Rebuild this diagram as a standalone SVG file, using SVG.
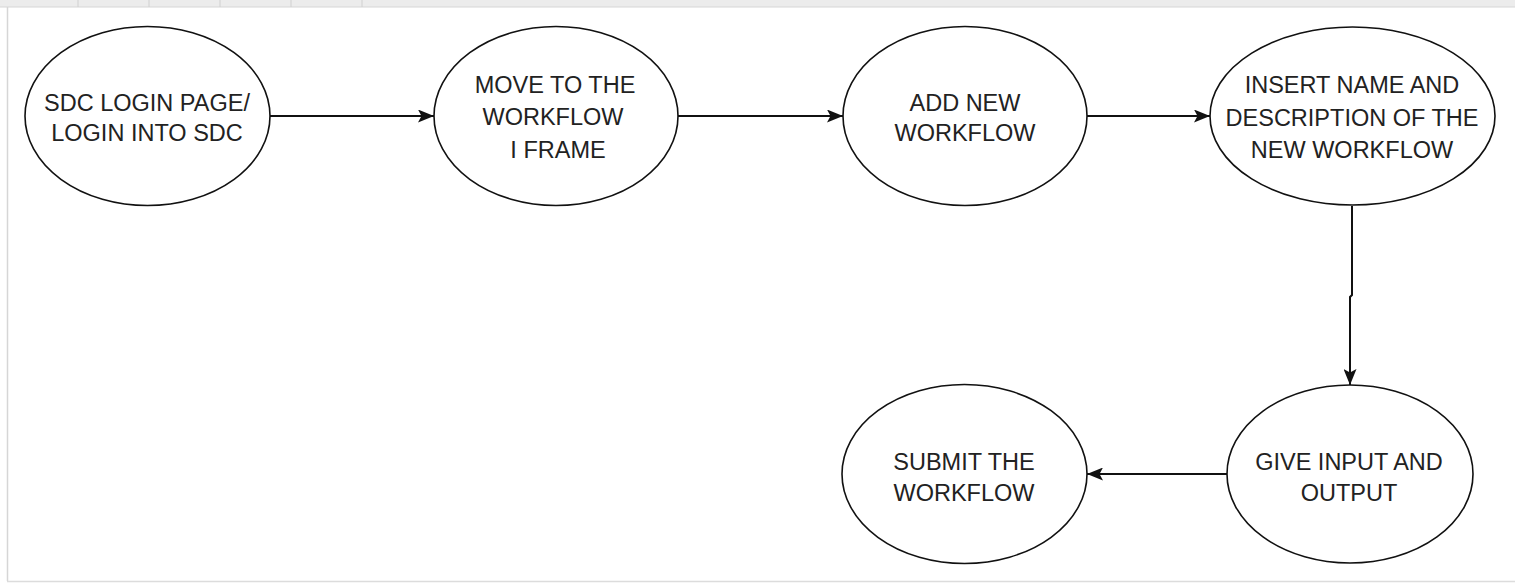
<svg xmlns="http://www.w3.org/2000/svg" width="1515" height="584" viewBox="0 0 1515 584">
<defs>
<style>
.node ellipse{fill:#fff;stroke:#111;stroke-width:1.6}
.node text{font-family:"Liberation Sans",Arial,sans-serif;font-size:23.5px;fill:#222;text-anchor:middle}
.edge{fill:none;stroke:#111;stroke-width:2}
</style>
<marker id="arr" markerWidth="16" markerHeight="13" refX="16" refY="6.5" orient="auto" markerUnits="userSpaceOnUse" viewBox="0 0 16 13">
<path d="M0,0 L16,6.5 L0,13 L3.5,6.5 Z" fill="#111"/>
</marker>
</defs>
<rect width="1515" height="584" fill="#fff"/>
<g id="frame">
<rect x="0" y="0" width="1515" height="7" fill="#ececec"/>
<line x1="0" y1="7" x2="1515" y2="7" stroke="#d6d6d6" stroke-width="1"/>
<g stroke="#d0d0d0" stroke-width="1">
<line x1="78" y1="0" x2="78" y2="7"/><line x1="149" y1="0" x2="149" y2="7"/><line x1="220" y1="0" x2="220" y2="7"/><line x1="291" y1="0" x2="291" y2="7"/><line x1="362" y1="0" x2="362" y2="7"/>
</g>
<line x1="7.5" y1="7" x2="7.5" y2="581" stroke="#d6d6d6" stroke-width="1.5"/>
<line x1="7" y1="581.5" x2="1515" y2="581.5" stroke="#dcdcdc" stroke-width="1.5"/>
</g>
<g id="connectors">
<line class="edge" x1="270" y1="116" x2="434" y2="116" marker-end="url(#arr)"/>
<line class="edge" x1="678" y1="116" x2="843" y2="116" marker-end="url(#arr)"/>
<line class="edge" x1="1087" y1="116" x2="1210" y2="116" marker-end="url(#arr)"/>
<polyline class="edge" points="1352,206 1352,295 1350,297 1350,385" marker-end="url(#arr)"/>
<line class="edge" x1="1227" y1="474" x2="1087" y2="474" marker-end="url(#arr)"/>
</g>
<g id="n1" class="node"><ellipse cx="147.5" cy="116" rx="122.5" ry="89.5"/><text x="147" y="111">SDC LOGIN PAGE/</text><text x="147" y="141">LOGIN INTO SDC</text></g>
<g id="n2" class="node"><ellipse cx="556" cy="116" rx="122" ry="89.5"/><text x="555" y="93">MOVE TO THE</text><text x="553" y="125">WORKFLOW</text><text x="558" y="158">I FRAME</text></g>
<g id="n3" class="node"><ellipse cx="965" cy="116" rx="122" ry="89.5"/><text x="965" y="111">ADD NEW</text><text x="965" y="141">WORKFLOW</text></g>
<g id="n4" class="node"><ellipse cx="1352.5" cy="116" rx="142.5" ry="89"/><text x="1352" y="93">INSERT NAME AND</text><text x="1352" y="126">DESCRIPTION OF THE</text><text x="1352" y="158">NEW WORKFLOW</text></g>
<g id="n5" class="node"><ellipse cx="1350" cy="474" rx="123" ry="89"/><text x="1349" y="470">GIVE INPUT AND</text><text x="1349" y="501">OUTPUT</text></g>
<g id="n6" class="node"><ellipse cx="964.5" cy="474" rx="122.5" ry="89.5"/><text x="964" y="470">SUBMIT THE</text><text x="964" y="501">WORKFLOW</text></g>
</svg>
